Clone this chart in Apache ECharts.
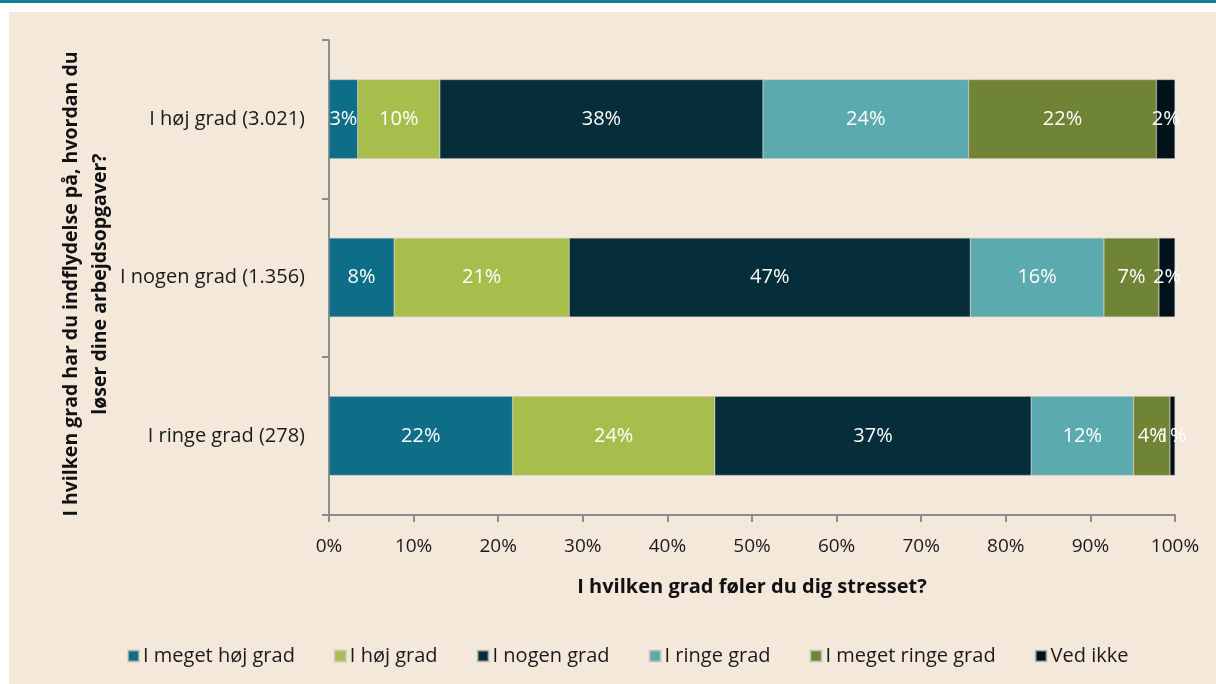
<!DOCTYPE html>
<html>
<head>
<meta charset="utf-8">
<script src="https://cdn.jsdelivr.net/npm/echarts@6/dist/echarts.min.js"></script>
<style>
html,body{margin:0;padding:0;background:#ffffff;width:1216px;height:684px;overflow:hidden;}
#topbar{position:absolute;left:0;top:0;width:1216px;height:3px;background:#127E99;}
#chart{position:absolute;left:9px;top:12px;width:1207px;height:672px;background:#F4E8DB;}
</style>
</head>
<body>
<div id="topbar"></div>
<div id="chart"></div>
<script>
const categories = ['I ringe grad (278)', 'I nogen grad (1.356)', 'I høj grad (3.021)'];
const seriesNames = ['I meget høj grad', 'I høj grad', 'I nogen grad', 'I ringe grad', 'I meget ringe grad', 'Ved ikke'];
const meget_hoej = [21.7, 7.7, 3.4];
const hoej = [23.9, 20.7, 9.7];
const nogen = [37.4, 47.4, 38.2];
const ringe = [12.1, 15.8, 24.3];
const meget_ringe = [4.3, 6.5, 22.2];
const ved_ikke = [0.6, 1.9, 2.2];
const xTicks = [0, 10, 20, 30, 40, 50, 60, 70, 80, 90, 100];
const colors = ['#0E6E87', '#A8BE4C', '#062D3A', '#5BAAB0', '#6F8434', '#02121A'];
const seriesValues = [meget_hoej, hoej, nogen, ringe, meget_ringe, ved_ikke];

const font = '"Open Sans", "Noto Sans", sans-serif';
const chart = echarts.init(document.getElementById('chart'), null, {renderer: 'canvas'});
chart.setOption({
  backgroundColor: 'transparent',
  textStyle: {fontFamily: font},
  animation: false,
  grid: {left: 320, right: 41, top: 28, bottom: 169, containLabel: false},
  xAxis: {
    type: 'value', min: xTicks[0], max: xTicks[xTicks.length - 1], interval: 10,
    axisLine: {show: true, lineStyle: {color: '#8c8c8c', width: 2}},
    axisTick: {show: true, length: 7, lineStyle: {color: '#8c8c8c', width: 2}},
    splitLine: {show: false},
    axisLabel: {formatter: '{value}%', color: '#1a1a1a', fontSize: 19, margin: 22, fontFamily: font},
    name: 'I hvilken grad føler du dig stresset?',
    nameLocation: 'middle', nameGap: 62,
    nameTextStyle: {fontWeight: 'bold', fontSize: 20, color: '#111', fontFamily: font}
  },
  yAxis: {
    type: 'category', data: categories,
    axisLine: {show: true, lineStyle: {color: '#8c8c8c', width: 2}},
    axisTick: {show: true, length: 7, lineStyle: {color: '#8c8c8c', width: 2}},
    axisLabel: {color: '#1a1a1a', fontSize: 20, margin: 24, fontFamily: font}
  },
  legend: {
    data: seriesNames, top: 629, left: 113,
    itemWidth: 11, itemHeight: 11, itemGap: 39, icon: 'rect',
    textStyle: {fontSize: 20, color: '#1a1a1a', fontFamily: font, padding: [0, 0, 0, -1]}
  },
  graphic: [{
    type: 'text',
    x: 77, y: 272, rotation: Math.PI / 2,
    style: {
      text: 'I hvilken grad har du indflydelse på, hvordan du\nløser dine arbejdsopgaver?',
      font: 'bold 19.5px ' + font, fill: '#111', align: 'center', verticalAlign: 'middle', lineHeight: 29
    }
  }],
  series: seriesNames.map((name, i) => ({
    name: name, type: 'bar', stack: 'total', barWidth: '50%',
    data: seriesValues[i],
    itemStyle: {color: colors[i], borderColor: 'rgba(200,195,185,0.7)', borderWidth: 0.5},
    label: {
      show: true, position: 'inside', color: '#ffffff', fontSize: 20, fontFamily: font,
      formatter: p => Math.round(p.value) + '%'
    }
  }))
});
</script>
</body>
</html>
